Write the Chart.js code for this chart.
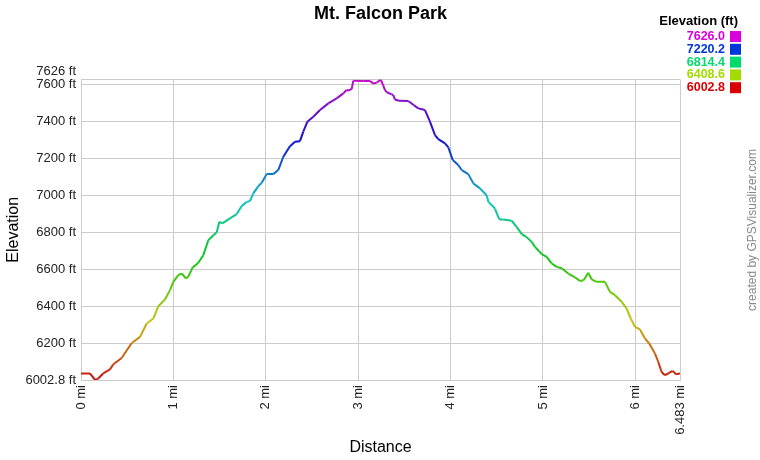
<!DOCTYPE html>
<html>
<head>
<meta charset="utf-8">
<title>Mt. Falcon Park</title>
<script src="https://cdn.jsdelivr.net/npm/chart.js@4/dist/chart.umd.min.js"></script>
<style>
  body { margin: 0; background: #fff; }
  canvas { display: block; }
</style>
</head>
<body>
<canvas id="grafico" width="760" height="460"></canvas>
<script>
// distance along the trail (mi) and elevation (ft)
var distancia = [0, 0.097, 0.152, 0.18, 0.24, 0.314, 0.35, 0.44, 0.549, 0.639,
  0.711, 0.783, 0.837, 0.909, 0.963, 0.999, 1.053, 1.09, 1.136, 1.16,
  1.209, 1.27, 1.324, 1.378, 1.432, 1.468, 1.497, 1.53, 1.613, 1.685,
  1.739, 1.793, 1.83, 1.865, 1.92, 1.956, 2.01, 2.081, 2.135, 2.19,
  2.262, 2.316, 2.37, 2.406, 2.45, 2.514, 2.587, 2.677, 2.767, 2.839,
  2.875, 2.9, 2.93, 2.947, 3.055, 3.128, 3.16, 3.2, 3.243, 3.27,
  3.29, 3.31, 3.362, 3.38, 3.398, 3.44, 3.542, 3.6, 3.65, 3.723,
  3.777, 3.831, 3.867, 3.94, 3.976, 4.023, 4.083, 4.12, 4.192, 4.246,
  4.318, 4.39, 4.41, 4.48, 4.527, 4.57, 4.661, 4.715, 4.77, 4.82,
  4.877, 4.914, 4.986, 5.04, 5.094, 5.148, 5.203, 5.274, 5.346, 5.4,
  5.44, 5.49, 5.527, 5.58, 5.671, 5.725, 5.78, 5.852, 5.905, 5.95,
  5.996, 6.05, 6.104, 6.15, 6.212, 6.248, 6.284, 6.32, 6.356, 6.403,
  6.44, 6.483];
var elevacion = [6038, 6038, 6003, 6008, 6038, 6060, 6088, 6122, 6203, 6236,
  6308, 6335, 6402, 6438, 6488, 6533, 6569, 6578, 6551, 6560,
  6611, 6636, 6677, 6758, 6785, 6800, 6857, 6849, 6876, 6899,
  6942, 6965, 6970, 7011, 7050, 7068, 7115, 7115, 7137, 7209,
  7266, 7290, 7293, 7344, 7398, 7425, 7461, 7497, 7524, 7551,
  7569, 7567, 7575, 7619, 7618, 7618, 7605, 7608, 7626, 7596,
  7569, 7557, 7546, 7542, 7518, 7511, 7510, 7488, 7470, 7461,
  7398, 7326, 7304, 7281, 7259, 7191, 7164, 7137, 7115, 7065,
  7038, 7001, 6965, 6929, 6870, 6870, 6863, 6830, 6791, 6776,
  6749, 6722, 6683, 6668, 6632, 6614, 6606, 6578, 6557, 6538,
  6542, 6582, 6546, 6533, 6533, 6479, 6461, 6425, 6389, 6335,
  6290, 6276, 6227, 6200, 6146, 6100, 6046, 6029, 6038, 6052,
  6034, 6038];

var ticksX = [0, 1, 2, 3, 4, 5, 6, 6.483];
var ticksY = [6002.8, 6200, 6400, 6600, 6800, 7000, 7200, 7400, 7600, 7626];
var leyenda = [7626.0, 7220.2, 6814.4, 6408.6, 6002.8];

var minY = 6002.8, maxY = 7626;
var fuente = "'Liberation Sans', Arial, sans-serif";

function tono(e) {
  return 300 * (e - minY) / (maxY - minY);
}
function colorLinea(e) {
  return "hsl(" + tono(e) + ", 85%, 42%)";
}
function colorLeyenda(e) {
  return "hsl(" + tono(e) + ", 100%, 43%)";
}

var puntos = distancia.map(function (d, i) { return { x: d, y: elevacion[i] }; });

// title over the plot, legend box and credit text on the right
var extras = {
  id: "extras",
  afterDraw: function (chart) {
    var ctx = chart.ctx;
    var area = chart.chartArea;
    ctx.save();
    ctx.textBaseline = "middle";
    ctx.textAlign = "center";
    ctx.fillStyle = "#000";
    ctx.font = "bold 18px " + fuente;
    ctx.fillText("Mt. Falcon Park", (area.left + area.right) / 2, 14);

    ctx.textAlign = "right";
    ctx.font = "bold 13px " + fuente;
    ctx.fillText("Elevation (ft)", 738, 21);
    ctx.font = "bold 12.5px " + fuente;
    leyenda.forEach(function (v, i) {
      var y = 36.5 + i * 12.8;
      ctx.fillStyle = colorLeyenda(v);
      ctx.fillText(v.toFixed(1), 725, y);
      ctx.fillRect(730, y - 5.5, 11, 11);
    });

    ctx.translate(753, 230);
    ctx.rotate(-Math.PI / 2);
    ctx.textAlign = "center";
    ctx.fillStyle = "#888";
    ctx.font = "12px " + fuente;
    ctx.fillText("created by GPSVisualizer.com", 0, 0);
    ctx.restore();
  }
};

document.addEventListener("DOMContentLoaded", function () {
  var ctx = document.getElementById("grafico").getContext("2d");
  new Chart(ctx, {
    type: "line",
    data: {
      datasets: [{
        data: puntos,
        borderWidth: 2,
        pointRadius: 0,
        tension: 0,
        borderColor: "#c00",
        segment: {
          borderColor: function (c) {
            return colorLinea((c.p0.parsed.y + c.p1.parsed.y) / 2);
          }
        }
      }]
    },
    options: {
      responsive: false,
      animation: false,
      layout: { padding: { left: 0, right: 80, top: 79.5, bottom: 0 } },
      plugins: {
        legend: { display: false },
        tooltip: { enabled: false },
        title: { display: false }
      },
      scales: {
        x: {
          type: "linear",
          min: 0,
          max: 6.483,
          afterBuildTicks: function (s) {
            s.ticks = ticksX.map(function (v) { return { value: v }; });
          },
          afterFit: function (s) { s.height = 80; },
          ticks: {
            autoSkip: false,
            minRotation: 90,
            maxRotation: 90,
            padding: 5,
            color: "#222",
            font: { family: fuente, size: 13 },
            callback: function (v) { return v + " mi"; }
          },
          grid: { color: "#cccccc", drawTicks: false },
          border: { color: "#cccccc" },
          title: {
            display: true,
            text: "Distance",
            color: "#000",
            font: { family: fuente, size: 16 },
            padding: { top: 0, bottom: 2.4 }
          }
        },
        y: {
          min: minY,
          max: maxY,
          afterBuildTicks: function (s) {
            s.ticks = ticksY.map(function (v) { return { value: v }; });
          },
          afterFit: function (s) { s.width = 81; },
          ticks: {
            autoSkip: false,
            padding: 5,
            color: "#222",
            font: { family: fuente, size: 13 },
            callback: function (v) {
              if (v === maxY) return [v + " ft", ""];
              return v + " ft";
            }
          },
          grid: { color: "#cccccc", drawTicks: false },
          border: { color: "#cccccc" },
          title: {
            display: true,
            text: "Elevation",
            color: "#000",
            font: { family: fuente, size: 16 },
            padding: { top: 4, bottom: 0 }
          }
        }
      }
    },
    plugins: [extras]
  });
});
</script>
</body>
</html>
